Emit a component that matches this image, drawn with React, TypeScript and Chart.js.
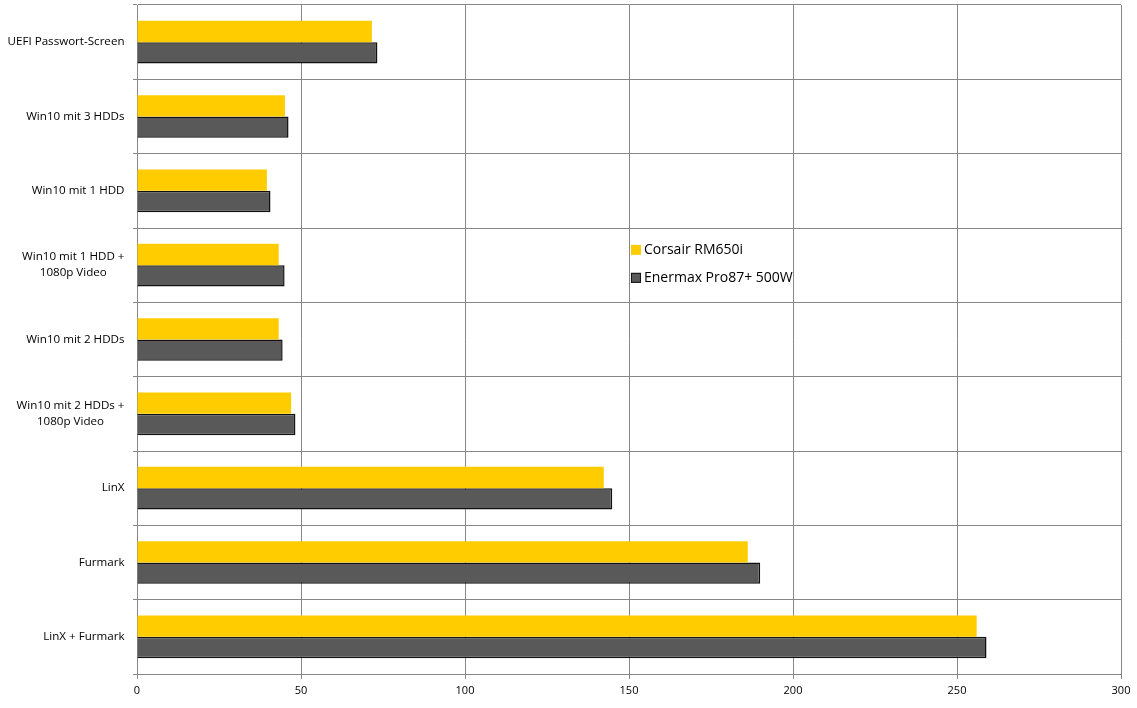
import Chart, { ChartConfiguration } from "chart.js/auto";
import React, { useRef } from "react";

const categories = [
  ["UEFI Passwort-Screen"],
  ["Win10 mit 3 HDDs"],
  ["Win10 mit 1 HDD"],
  ["Win10 mit 1 HDD +", "1080p Video"],
  ["Win10 mit 2 HDDs"],
  ["Win10 mit 2 HDDs +", "1080p Video"],
  ["LinX"],
  ["Furmark"],
  ["LinX + Furmark"],
];
const corsair = [71.6, 45.1, 39.6, 43.2, 43.2, 47.0, 142.3, 186.2, 256.0];
const enermax = [73.3, 46.2, 40.7, 45.0, 44.4, 48.3, 144.9, 190.0, 259.0];
const xTicks = [0, 50, 100, 150, 200, 250, 300];

const gridColor = "#878787";
const labelFont = '11.6px "Open Sans"';

const yLabels = {
  id: "yLabels",
  afterDraw(chart: any) {
    const ctx = chart.ctx;
    const y = chart.scales.y;
    const right = chart.chartArea.left - 12.5;
    ctx.save();
    ctx.font = labelFont;
    ctx.fillStyle = "#000";
    ctx.textBaseline = "middle";
    ctx.textAlign = "center";
    categories.forEach((lines, i) => {
      const cy = y.getPixelForValue(i);
      const maxW = Math.max(...lines.map((l) => ctx.measureText(l).width));
      const cx = right - maxW / 2;
      lines.forEach((l, j) => {
        ctx.fillText(l, cx, cy + (j - (lines.length - 1) / 2) * 16);
      });
    });
    ctx.restore();
  },
};

const innerLegend = {
  id: "innerLegend",
  afterDraw(chart: any) {
    const ctx = chart.ctx;
    const area = chart.chartArea;
    const x = area.left + area.width * 0.502;
    const y0 = area.top + area.height * 0.366;
    ctx.save();
    ctx.font = '14px "Open Sans"';
    ctx.textBaseline = "middle";
    ctx.textAlign = "left";
    chart.data.datasets.forEach((ds: any, i: number) => {
      const cy = y0 + i * 28;
      ctx.fillStyle = ds.backgroundColor;
      ctx.fillRect(x, cy - 5, 10, 10);
      if (ds.borderWidth) {
        ctx.strokeStyle = ds.borderColor;
        ctx.lineWidth = 1;
        ctx.strokeRect(x + 0.5, cy - 4.5, 9, 9);
      }
      ctx.fillStyle = "#000";
      ctx.fillText(ds.label, x + 13, cy);
    });
    ctx.restore();
  },
};

const Graph = () => {
  const canvasEl = useRef(null);
  React.useEffect(() => {
    document.body.style.margin = "0";
    document.body.style.overflow = "hidden";
    const ctx = canvasEl.current.getContext("2d");

    const data = {
      labels: categories.map((c) => c.join(" ")),
      datasets: [
        {
          label: "Corsair RM650i",
          data: corsair,
          backgroundColor: "#FFCC00",
          borderWidth: 0,
        },
        {
          label: "Enermax Pro87+ 500W",
          data: enermax,
          backgroundColor: "#595959",
          borderColor: "#111111",
          borderWidth: 1.5,
        },
      ],
    };
    const config = {
      type: "bar",
      data: data,
      options: {
        indexAxis: "y",
        responsive: true,
        maintainAspectRatio: false,
        animation: false,
        categoryPercentage: 0.575,
        barPercentage: 1,
        layout: { padding: { top: 5, right: 16, left: 0, bottom: 0 } },
        plugins: {
          legend: { display: false },
          tooltip: { enabled: false },
        },
        scales: {
          x: {
            min: 0,
            max: 300,
            afterBuildTicks: (scale: any) => {
              scale.ticks = xTicks.map((v) => ({ value: v }));
            },
            afterFit: (scale: any) => {
              scale.height = 34;
            },
            grid: { color: gridColor, tickLength: 5, lineWidth: 1 },
            border: { color: gridColor },
            ticks: {
              color: "#000",
              font: { family: "Open Sans", size: 11 },
              padding: 5,
              maxRotation: 0,
            },
          },
          y: {
            afterFit: (scale: any) => {
              scale.width = 137;
            },
            grid: { color: gridColor, tickLength: 4, offset: true },
            border: { color: gridColor },
            ticks: { display: false },
          },
        },
      },
      plugins: [yLabels, innerLegend],
    } as ChartConfiguration;
    const myChart = new Chart(ctx, config);

    return () => {
      myChart.destroy();
    };
  }, []);
  return (
    <div style={{ position: "relative", width: 1137, height: 708 }}>
      <canvas ref={canvasEl}></canvas>
    </div>
  );
};

export default Graph;
